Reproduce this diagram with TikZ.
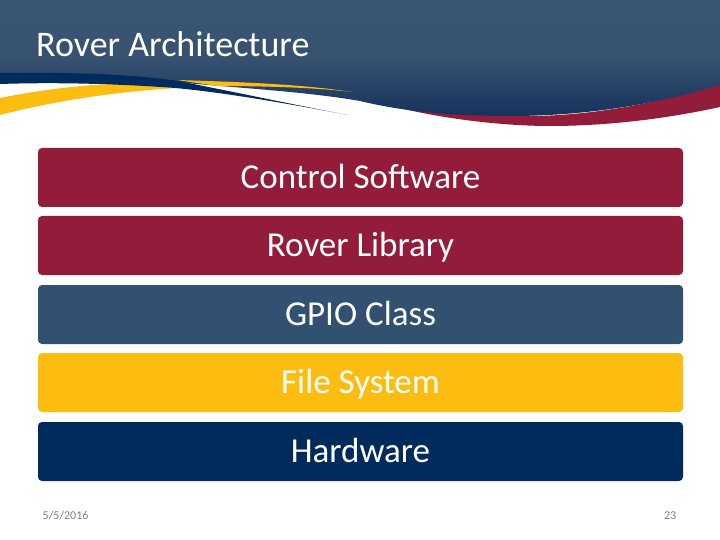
\documentclass[tikz,border=0pt]{standalone}
\usepackage{fontspec}
\setmainfont{Carlito}
\usetikzlibrary{shadings}
\definecolor{hdrtop}{HTML}{3B5675}
\definecolor{hdrmid}{HTML}{375270}
\definecolor{hdrbot}{HTML}{16325C}
\definecolor{roverred}{HTML}{931C3B}
\definecolor{roverblue}{HTML}{32506F}
\definecolor{roveryellow}{HTML}{FDBD10}
\definecolor{rovernavy}{HTML}{002B5C}
\definecolor{footgray}{HTML}{7F7F7F}
\pgfdeclareverticalshading{hdrshade}{100bp}{color(0bp)=(hdrbot); color(25bp)=(hdrbot); color(50bp)=(hdrmid); color(75bp)=(hdrtop); color(100bp)=(hdrtop)}
\tikzset{
  layerbox/.style={rounded corners=4pt,minimum width=645pt,minimum height=59pt,inner sep=0pt,
    text height=22pt,text depth=0pt,
    text=white,font=\fontsize{35}{40}\selectfont,anchor=center},
  footer/.style={text=footgray,font=\fontsize{12}{14}\selectfont,inner sep=0pt}
}
\begin{document}
\begin{tikzpicture}[x=1pt,y=-1pt]
\useasboundingbox (0,0) rectangle (720,540);
\fill[white] (0,0) rectangle (720,540);
% red swoosh
\fill[roverred] (720,84) .. controls (660,102) and (590,118) .. (510,116)
  .. controls (470,115) and (430,113) .. (400,108)
  .. controls (440,118) and (500,126) .. (550,126)
  .. controls (610,126) and (670,118) .. (720,107) -- cycle;
% header
\path[shading=hdrshade] (0,0) -- (720,0) -- (720,85)
  .. controls (660,103) and (590,116) .. (510,116)
  .. controls (460,116) and (410,113) .. (360,101)
  .. controls (320,94) and (270,90) .. (220,86)
  -- (150,80) -- (0,73) -- cycle;
% yellow left
\fill[roveryellow] (0,98) .. controls (40,90) and (80,85) .. (115,84)
  -- (178,88) .. controls (110,92) and (50,102) .. (0,115) -- cycle;
% navy band
\fill[rovernavy] (0,73) .. controls (70,72) and (130,74) .. (178,81)
  .. controls (230,91) and (300,106) .. (348,115)
  .. controls (300,106) and (230,93) .. (175,88)
  .. controls (120,84) and (60,82) .. (0,84) -- cycle;
% yellow upper
\fill[roveryellow] (177,80) .. controls (240,82) and (300,84) .. (352,92)
  .. controls (320,88) and (270,86) .. (217,86) -- cycle;
\node[text=white,font=\fontsize{36}{40}\selectfont,anchor=base west,inner sep=0pt] (title) at (36,56.5) {Rover Architecture};
\node[layerbox,fill=roverred] (control) at (360.5,177.5) {Control Software};
\node[layerbox,fill=roverred] (library) at (360.5,245.5) {Rover Library};
\node[layerbox,fill=roverblue] (gpio) at (360.5,314.5) {GPIO Class};
\node[layerbox,fill=roveryellow] (files) at (360.5,382.5) {File System};
\node[layerbox,fill=rovernavy] (hardware) at (360.5,451.5) {Hardware};
\node[footer,anchor=base west] (date) at (42.5,519) {5/5/2016};
\node[footer,anchor=base east] (page) at (676.5,519) {23};
\end{tikzpicture}
\end{document}
